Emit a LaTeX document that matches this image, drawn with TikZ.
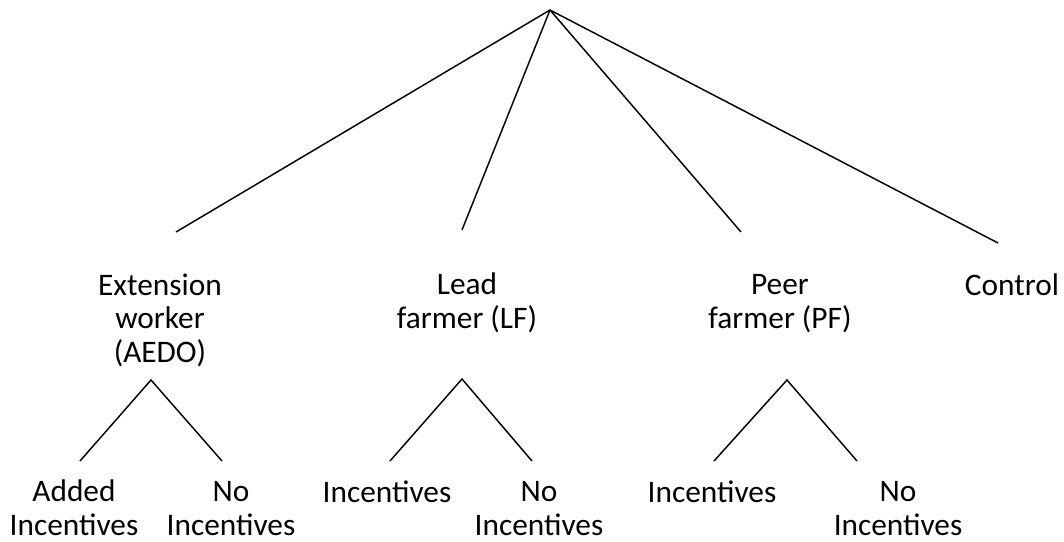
\documentclass[tikz,border=0pt]{standalone}
\usepackage{fontspec}
\setmainfont{Carlito}
\usetikzlibrary{positioning}
\tikzset{lbl/.style={align=center, inner sep=0pt, anchor=base, font=\fontsize{23.5}{24.8}\selectfont}}
\tikzset{branch/.style={draw, line width=1.1pt}}

\begin{document}
\begin{tikzpicture}[x=0.75pt, y=-0.75pt]
  \useasboundingbox (0,0) rectangle (1064,542);
  \coordinate (root) at (550,10);
  % first level (anchor is the baseline of the last line)
  \coordinate (ext top) at (176,232);
  \coordinate (lead top) at (462,230);
  \coordinate (peer top) at (741,232);
  \coordinate (ctrl top) at (998,243);
  \node[lbl] (ext) at (160,362) {Extension\\worker\\(AEDO)};
  \node[lbl] (lead) at (467,328) {Lead\\farmer (LF)};
  \node[lbl] (peer) at (780,328) {Peer\\farmer (PF)};
  \node[lbl] (ctrl) at (1012,295) {Control};
  \foreach \t in {ext top, lead top, peer top, ctrl top}
    \draw[branch] (root) -- (\t);
  % second level
  \coordinate (ext fork) at (151,380);
  \coordinate (lead fork) at (462,379);
  \coordinate (peer fork) at (787,380);
  \coordinate (ext a) at (80,461);
  \coordinate (ext b) at (222,461);
  \coordinate (lead a) at (390,461);
  \coordinate (lead b) at (532,461);
  \coordinate (peer a) at (714,461);
  \coordinate (peer b) at (857,461);
  \draw[branch] (ext a) -- (ext fork) -- (ext b);
  \draw[branch] (lead a) -- (lead fork) -- (lead b);
  \draw[branch] (peer a) -- (peer fork) -- (peer b);
  \node[lbl] (ext inc) at (74,535) {Added\\Incentives};
  \node[lbl] (ext no) at (231,535) {No\\Incentives};
  \node[lbl] (lead inc) at (387,502) {Incentives};
  \node[lbl] (lead no) at (539,535) {No\\Incentives};
  \node[lbl] (peer inc) at (712,502) {Incentives};
  \node[lbl] (peer no) at (898,535) {No\\Incentives};
\end{tikzpicture}
\end{document}
